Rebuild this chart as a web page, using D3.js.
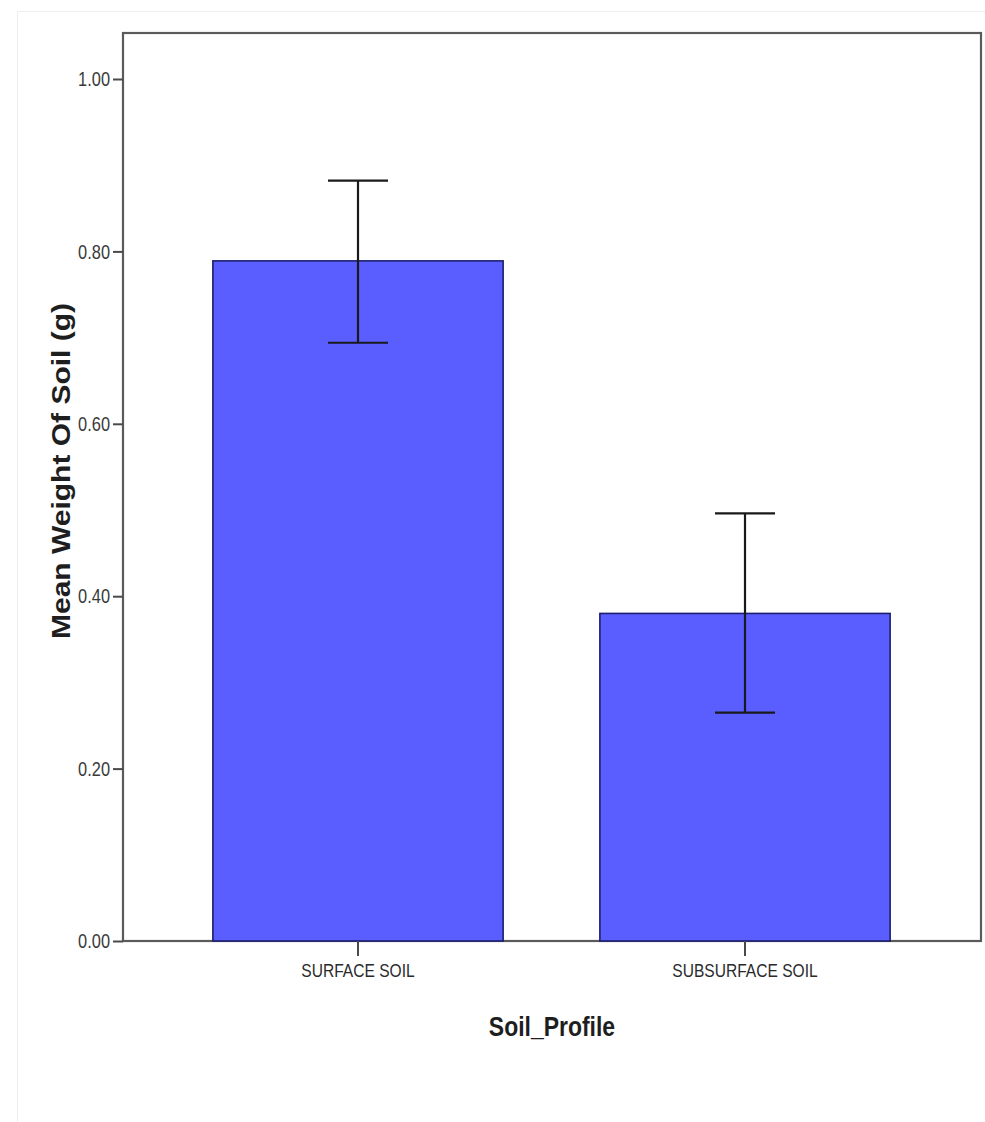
<!DOCTYPE html>
<html>
<head>
<meta charset="utf-8">
<script src="https://cdn.jsdelivr.net/npm/d3@7"></script>
<style>
  html, body { margin: 0; padding: 0; background: #ffffff; }
  svg { display: block; }
</style>
</head>
<body>
<svg id="chart" width="985" height="1122"></svg>
<script>
// Mean soil weight by profile, with error bars
const categories = ["SURFACE SOIL", "SUBSURFACE SOIL"];
const means      = [0.789, 0.380];
const errLow     = [0.694, 0.265];
const errHigh    = [0.882, 0.496];
const yTicks     = [0.00, 0.20, 0.40, 0.60, 0.80, 1.00];
const xTitle = "Soil_Profile";
const yTitle = "Mean Weight Of Soil (g)";

const W = 985, H = 1122;
const frame = { left: 123, right: 981, top: 33, bottom: 941 };
const FONT = "'Liberation Sans', Arial, sans-serif";
const SQUEEZE = 0.82; // condensed look for labels

const svg = d3.select("#chart");

// faint outer edge of the exported figure
svg.append("path")
  .attr("d", `M17.5,${H} V11.5 H${W}`)
  .attr("fill", "none")
  .attr("stroke", "#eeeeee")
  .attr("stroke-width", 1);

const y = d3.scaleLinear()
  .domain([0, 1])
  .range([frame.bottom, frame.bottom - 862]);

const x = d3.scaleBand()
  .domain(categories)
  .range([164.5, 938.5])
  .padding(0);

const barW = x.bandwidth() * 0.75;
const capW = 60;

// plot frame
svg.append("rect")
  .attr("x", frame.left)
  .attr("y", frame.top)
  .attr("width", frame.right - frame.left)
  .attr("height", frame.bottom - frame.top)
  .attr("fill", "#ffffff")
  .attr("stroke", "#5a5a5a")
  .attr("stroke-width", 2.2);

// bars
svg.append("g").selectAll("rect")
  .data(categories)
  .join("rect")
  .attr("x", d => x(d) + (x.bandwidth() - barW) / 2)
  .attr("y", (d, i) => y(means[i]))
  .attr("width", barW)
  .attr("height", (d, i) => y(0) - y(means[i]))
  .attr("fill", "#5a5eff")
  .attr("stroke", "#1c1f6e")
  .attr("stroke-width", 1.6);

// error bars
const eb = svg.append("g")
  .attr("stroke", "#1a1a1a")
  .attr("stroke-width", 2.2)
  .attr("fill", "none");
categories.forEach((c, i) => {
  const cx = x(c) + x.bandwidth() / 2;
  eb.append("line").attr("x1", cx).attr("x2", cx)
    .attr("y1", y(errHigh[i])).attr("y2", y(errLow[i]));
  eb.append("line").attr("x1", cx - capW / 2).attr("x2", cx + capW / 2)
    .attr("y1", y(errHigh[i])).attr("y2", y(errHigh[i]));
  eb.append("line").attr("x1", cx - capW / 2).attr("x2", cx + capW / 2)
    .attr("y1", y(errLow[i])).attr("y2", y(errLow[i]));
});

// y axis
const yAxis = d3.axisLeft(y)
  .tickValues(yTicks)
  .tickFormat(d3.format(".2f"))
  .tickSize(10)
  .tickPadding(3);
const gy = svg.append("g")
  .attr("transform", `translate(${frame.left},0)`)
  .call(yAxis);
gy.select(".domain").remove();
gy.selectAll(".tick line").attr("stroke", "#4a4a4a").attr("stroke-width", 2);
gy.selectAll(".tick text")
  .attr("x", 0)
  .attr("transform", `translate(-13,0) scale(${SQUEEZE},1.05)`)
  .attr("font-family", FONT)
  .style("font-size", "20px")
  .attr("fill", "#3a3a3a");

// x axis
const xAxis = d3.axisBottom(x)
  .tickSize(15)
  .tickPadding(8);
const gx = svg.append("g")
  .attr("transform", `translate(0,${frame.bottom})`)
  .call(xAxis);
gx.select(".domain").remove();
gx.selectAll(".tick line").attr("stroke", "#4a4a4a").attr("stroke-width", 2);
gx.selectAll(".tick text")
  .attr("transform", `scale(${SQUEEZE},1)`)
  .attr("font-family", FONT)
  .style("font-size", "19px")
  .attr("fill", "#2a2a2a");

// axis titles
svg.append("text")
  .attr("transform", `translate(${(frame.left + frame.right) / 2},1036) scale(${SQUEEZE},1)`)
  .attr("text-anchor", "middle")
  .attr("font-family", FONT)
  .attr("font-weight", "bold")
  .style("font-size", "28px")
  .attr("fill", "#1e1e1e")
  .text(xTitle);

svg.append("text")
  .attr("transform", "translate(70,471) rotate(-90)")
  .attr("text-anchor", "middle")
  .attr("font-family", FONT)
  .attr("font-weight", "bold")
  .style("font-size", "25px")
  .attr("textLength", 336)
  .attr("lengthAdjust", "spacingAndGlyphs")
  .attr("fill", "#1e1e1e")
  .text(yTitle);
</script>
</body>
</html>
